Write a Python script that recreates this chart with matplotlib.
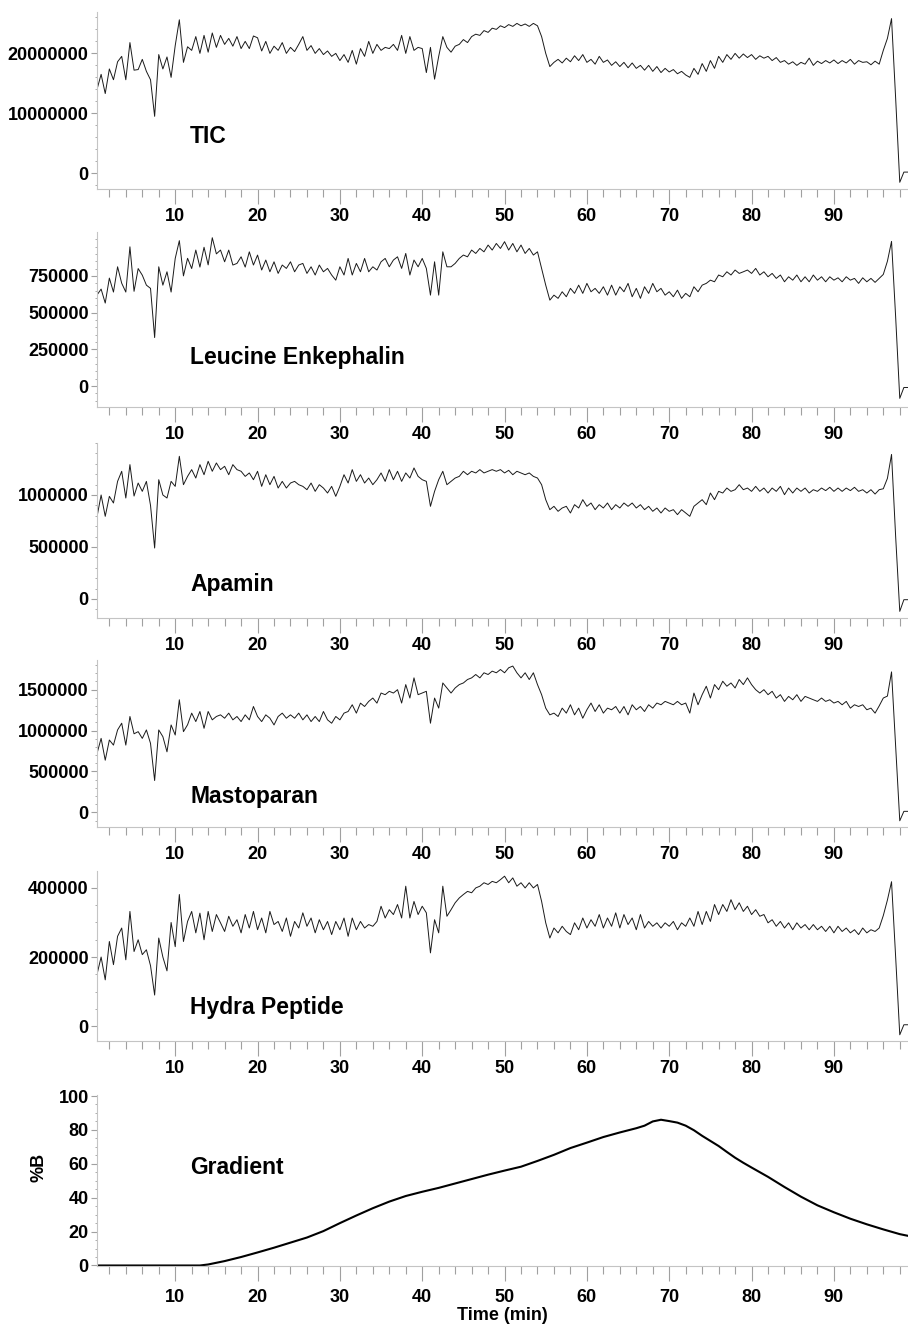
import numpy as np
import matplotlib.pyplot as plt
from matplotlib.ticker import MultipleLocator, FuncFormatter

plt.rcParams['font.family'] = ['Liberation Sans', 'DejaVu Sans']
plt.rcParams['font.weight'] = 'bold'

# retention time of the samples, min (0.5 min steps)
time = np.arange(0.5, 99.01, 0.5)

# TIC, counts x 1e6
tic = np.array([
    14.0, 16.5, 13.3, 17.4, 15.6, 18.6, 19.5, 15.6, 21.8, 17.2,
    17.3, 19.0, 17.0, 15.6, 9.5, 19.8, 17.4, 19.4, 16.0, 21.3,
    25.6, 18.5, 21.1, 20.5, 22.8, 20.0, 23.0, 20.2, 23.4, 21.0,
    23.0, 21.5, 22.5, 21.2, 22.8, 20.8, 22.0, 20.8, 22.9, 22.6,
    20.4, 22.0, 20.0, 21.2, 20.5, 21.8, 20.0, 21.0, 20.3, 21.5,
    22.8, 20.5, 21.3, 20.0, 20.8, 19.8, 20.4, 19.5, 20.0, 18.8,
    19.8, 18.5, 20.5, 18.2, 20.8, 19.5, 22.0, 20.0, 21.5, 20.5,
    21.0, 20.8, 21.5, 20.5, 23.0, 20.0, 22.8, 20.5, 21.0, 20.8,
    16.8, 21.0, 15.7, 19.5, 22.8, 21.0, 20.2, 21.2, 21.5, 22.3,
    21.8, 22.8, 23.2, 23.0, 23.8, 23.5, 24.2, 24.0, 24.6, 24.3,
    24.8, 24.5, 25.0, 24.6, 24.9, 24.5, 25.0, 24.6, 22.8, 20.0,
    17.8, 18.5, 19.0, 18.4, 19.2, 18.6, 19.6, 18.8, 19.8, 18.5,
    19.0, 18.2, 19.5, 18.5, 18.9, 18.0, 18.6, 17.8, 18.5, 17.6,
    18.4, 17.5, 18.0, 17.2, 18.0, 17.0, 17.8, 16.8, 17.5, 16.9,
    17.3, 16.6, 17.0, 16.4, 16.0, 17.5, 16.5, 18.3, 17.0, 18.8,
    17.5, 19.5, 18.5, 19.8, 19.0, 20.0, 19.2, 19.9, 19.3, 19.8,
    19.0, 19.6, 19.2, 19.5, 18.8, 19.3, 18.5, 18.8, 18.2, 18.6,
    18.0, 18.5, 18.2, 19.2, 18.0, 18.7, 18.3, 18.8, 18.4, 18.9,
    18.3, 18.8, 18.4, 19.0, 18.2, 18.8, 18.5, 18.6, 18.1, 18.7,
    18.2, 20.5, 22.5, 25.8, 12.5, -1.5, 0.2, 0.2]) * 1e6

# extracted ion traces, counts x 1e3
leu_enk = np.array([
    620, 660, 565, 735, 640, 812, 700, 640, 948, 645,
    800, 755, 687, 665, 330, 812, 687, 778, 640, 869,
    990, 750, 870, 800, 926, 810, 945, 825, 1010, 900,
    926, 846, 926, 824, 835, 880, 810, 914, 824, 892,
    790, 858, 778, 846, 767, 824, 801, 846, 778, 824,
    835, 767, 812, 756, 824, 778, 801, 756, 721, 812,
    756, 869, 756, 835, 778, 869, 778, 812, 790, 846,
    869, 812, 858, 880, 801, 903, 756, 858, 812, 869,
    801, 619, 846, 619, 914, 812, 812, 835, 869, 892,
    880, 926, 903, 937, 914, 960, 926, 971, 937, 983,
    926, 971, 914, 960, 903, 937, 892, 914, 801, 687,
    585, 619, 597, 642, 608, 665, 631, 687, 631, 699,
    642, 665, 631, 676, 619, 687, 619, 676, 642, 699,
    608, 665, 597, 676, 631, 699, 642, 665, 619, 642,
    608, 653, 597, 631, 608, 676, 642, 687, 699, 721,
    710, 756, 744, 778, 756, 790, 767, 778, 790, 767,
    801, 756, 778, 744, 767, 733, 756, 710, 744, 721,
    756, 710, 744, 710, 756, 721, 744, 710, 744, 721,
    737, 710, 744, 721, 733, 699, 737, 710, 733, 706,
    733, 760, 850, 985, 470, -84, -10, -10]) * 1e3

apamin = np.array([
    790, 1000, 795, 987, 923, 1131, 1228, 971, 1292, 990,
    1115, 1035, 1131, 900, 490, 1147, 1000, 971, 1131, 1083,
    1372, 1099, 1179, 1244, 1163, 1292, 1195, 1324, 1228, 1308,
    1244, 1276, 1195, 1292, 1244, 1228, 1179, 1212, 1147, 1228,
    1083, 1195, 1099, 1179, 1067, 1131, 1067, 1115, 1131, 1099,
    1083, 1051, 1115, 1035, 1099, 1067, 1019, 1083, 987, 1083,
    1195, 1115, 1244, 1131, 1195, 1115, 1163, 1099, 1147, 1212,
    1131, 1244, 1147, 1228, 1131, 1212, 1163, 1260, 1179, 1147,
    1131, 891, 1035, 1147, 1228, 1099, 1131, 1163, 1179, 1228,
    1195, 1228, 1212, 1244, 1212, 1228, 1244, 1228, 1244, 1212,
    1237, 1195, 1228, 1212, 1195, 1212, 1179, 1163, 1099, 955,
    859, 891, 843, 875, 891, 827, 907, 875, 955, 891,
    923, 859, 907, 875, 923, 859, 907, 875, 923, 891,
    923, 875, 907, 859, 891, 843, 875, 827, 875, 843,
    859, 811, 859, 827, 795, 891, 923, 955, 907, 1019,
    955, 1035, 1019, 1067, 1035, 1051, 1099, 1051, 1067, 1035,
    1083, 1035, 1067, 1019, 1067, 1035, 1083, 1003, 1067, 1019,
    1067, 1035, 1067, 1019, 1051, 1035, 1067, 1042, 1074, 1035,
    1067, 1035, 1067, 1042, 1074, 1035, 1051, 1019, 1051, 1009,
    1051, 1060, 1160, 1390, 600, -119, -7, -7]) * 1e3

mastoparan = np.array([
    720, 904, 638, 884, 822, 1007, 1089, 822, 1171, 960,
    986, 904, 1007, 843, 390, 1007, 925, 740, 1068, 945,
    1375, 986, 1070, 1212, 1109, 1232, 1027, 1232, 1130, 1171,
    1191, 1150, 1212, 1130, 1171, 1109, 1191, 1130, 1293, 1171,
    1109, 1191, 1150, 1068, 1171, 1212, 1150, 1191, 1150, 1212,
    1130, 1191, 1109, 1171, 1109, 1232, 1130, 1089, 1171, 1130,
    1212, 1232, 1314, 1212, 1334, 1293, 1355, 1396, 1334, 1457,
    1437, 1478, 1457, 1498, 1335, 1560, 1396, 1642, 1437, 1457,
    1478, 1089, 1396, 1273, 1580, 1519, 1457, 1519, 1560, 1580,
    1622, 1642, 1683, 1642, 1704, 1683, 1724, 1704, 1744, 1704,
    1765, 1786, 1704, 1642, 1704, 1622, 1704, 1560, 1437, 1273,
    1191, 1212, 1171, 1273, 1212, 1314, 1191, 1273, 1150, 1253,
    1335, 1232, 1314, 1212, 1273, 1253, 1293, 1212, 1293, 1191,
    1314, 1253, 1293, 1232, 1314, 1273, 1335, 1314, 1355, 1335,
    1314, 1355, 1314, 1335, 1212, 1457, 1314, 1437, 1540, 1396,
    1560, 1498, 1601, 1540, 1580, 1519, 1622, 1560, 1642, 1560,
    1498, 1457, 1498, 1437, 1478, 1396, 1437, 1355, 1416, 1375,
    1437, 1355, 1416, 1396, 1375, 1355, 1396, 1355, 1375, 1335,
    1355, 1314, 1355, 1273, 1314, 1293, 1314, 1253, 1273, 1212,
    1300, 1396, 1420, 1715, 800, -101, 14, 14]) * 1e3

hydra = np.array([
    150, 200, 134, 245, 178, 260, 284, 192, 332, 216,
    250, 207, 221, 175, 90, 255, 200, 160, 300, 230,
    381, 245, 303, 332, 270, 327, 250, 332, 274, 323,
    299, 274, 318, 289, 308, 270, 323, 284, 332, 279,
    313, 270, 332, 294, 303, 274, 313, 260, 303, 284,
    328, 289, 313, 270, 308, 279, 303, 265, 303, 279,
    313, 260, 313, 279, 303, 284, 294, 289, 303, 347,
    313, 337, 323, 352, 313, 405, 313, 361, 323, 347,
    328, 212, 308, 270, 405, 318, 337, 357, 371, 381,
    390, 386, 400, 405, 415, 410, 419, 415, 424, 434,
    415, 429, 405, 415, 400, 415, 400, 410, 361, 299,
    255, 284, 270, 289, 274, 265, 299, 279, 313, 284,
    308, 289, 323, 284, 313, 289, 328, 284, 323, 294,
    313, 279, 323, 284, 303, 289, 299, 284, 299, 289,
    303, 279, 299, 289, 313, 289, 332, 294, 332, 303,
    352, 323, 352, 332, 366, 337, 357, 332, 347, 323,
    337, 318, 323, 299, 308, 289, 303, 284, 299, 279,
    299, 284, 294, 279, 294, 279, 289, 274, 289, 270,
    289, 274, 284, 270, 279, 265, 284, 270, 279, 274,
    284, 320, 365, 418, 200, -25, 4, 4]) * 1e3

for trace in (tic, leu_enk, apamin, mastoparan, hydra):
    assert len(trace) == len(time)

# solvent gradient, %B
grad_time = [0.5, 5, 10, 13, 14, 16, 18, 20, 22, 24, 26, 28, 30, 32, 34, 36,
             38, 40, 42, 44, 46, 48, 50, 52, 54, 56, 58, 60, 62, 64, 66, 67,
             68, 69, 70, 71, 72, 73, 74, 75, 76, 77, 78, 79, 80, 82, 84, 86,
             88, 90, 92, 94, 96, 98, 99]
grad_b = [0, 0, 0, 0, 0.6, 2.6, 5.0, 7.7, 10.5, 13.5, 16.5, 20.3, 25.0, 29.5,
          33.8, 37.7, 41.0, 43.5, 45.8, 48.4, 51.0, 53.6, 56.0, 58.3, 61.7,
          65.3, 69.3, 72.5, 75.8, 78.5, 81.0, 82.5, 85.0, 86.0, 85.2, 84.3,
          82.5, 79.8, 76.5, 73.5, 70.5, 67.0, 63.6, 60.6, 57.8, 52.3, 46.3,
          40.6, 35.5, 31.4, 27.6, 24.3, 21.3, 18.5, 17.5]

W, H = 908, 1325
fig = plt.figure(figsize=(W / 100, H / 100), dpi=100)

# top px, bottom px, ylim, major y ticks, minor step, name, name baseline px
panels = [
    (12, 189, (-2.62e6, 26.9e6), [0, 10e6, 20e6], 2e6, 'TIC', 143),
    (232, 407, (-143e3, 1049e3), [0, 250e3, 500e3, 750e3], 50e3, 'Leucine Enkephalin', 364),
    (443, 618, (-183e3, 1500e3), [0, 500e3, 1000e3], 100e3, 'Apamin', 591),
    (660, 827, (-177e3, 1860e3), [0, 500e3, 1000e3, 1500e3], 100e3, 'Mastoparan', 803),
    (871, 1041, (-43e3, 449e3), [0, 200e3, 400e3], 50e3, 'Hydra Peptide', 1014),
    (1095, 1266, (-0.3, 100.6), [0, 20, 40, 60, 80, 100], 5, 'Gradient', 1174),
]
series = [tic, leu_enk, apamin, mastoparan, hydra, None]

spine_col = '#c4c4c4'
tick_col = '#a0a0a0'

for (top, bot, ylim, majors, minor, name, base), y in zip(panels, series):
    ax = fig.add_axes([97 / W, 1 - bot / H, (W - 97) / W, (bot - top) / H])
    if y is None:
        ax.plot(grad_time, grad_b, color='black', lw=1.5)
        xpad = 5.5
    else:
        ax.plot(time, y, color='#1a1a1a', lw=0.7)
        xpad = 2.6
    ax.set_xlim(0.5, 99.0)
    ax.set_ylim(*ylim)
    ax.set_xticks(range(10, 100, 10))
    ax.xaxis.set_minor_locator(MultipleLocator(2))
    ax.set_yticks(majors)
    ax.yaxis.set_minor_locator(MultipleLocator(minor))
    ax.yaxis.set_major_formatter(FuncFormatter(lambda v, p: '%d' % round(v)))
    for s in ('top', 'right'):
        ax.spines[s].set_visible(False)
    for s in ('left', 'bottom'):
        ax.spines[s].set_color(spine_col)
        ax.spines[s].set_linewidth(0.8)
    ax.tick_params(axis='x', which='major', length=10.8, width=0.8, color=tick_col,
                   pad=xpad, labelsize=13)
    ax.tick_params(axis='x', which='minor', length=5.8, width=0.8, color=tick_col)
    ax.tick_params(axis='y', which='major', length=4.1, width=0.8, color=tick_col,
                   pad=1.9, labelsize=13)
    ax.tick_params(axis='y', which='minor', length=1.8, width=0.6, color=tick_col)
    for lab in ax.get_xticklabels() + ax.get_yticklabels():
        lab.set_fontweight('bold')
    ax.patch.set_visible(False)
    fig.text(190 / W, 1 - base / H, name, fontsize=16.5, fontweight='bold',
             ha='left', va='baseline')

fig.text(39 / W, 1 - 1167 / H, '%B', rotation=90, fontsize=13, fontweight='bold',
         ha='center', va='center')
fig.text(502 / W, 1 - 1316 / H, 'Time (min)', fontsize=13, fontweight='bold',
         ha='center', va='center')

fig.savefig('out.png', dpi=100)
